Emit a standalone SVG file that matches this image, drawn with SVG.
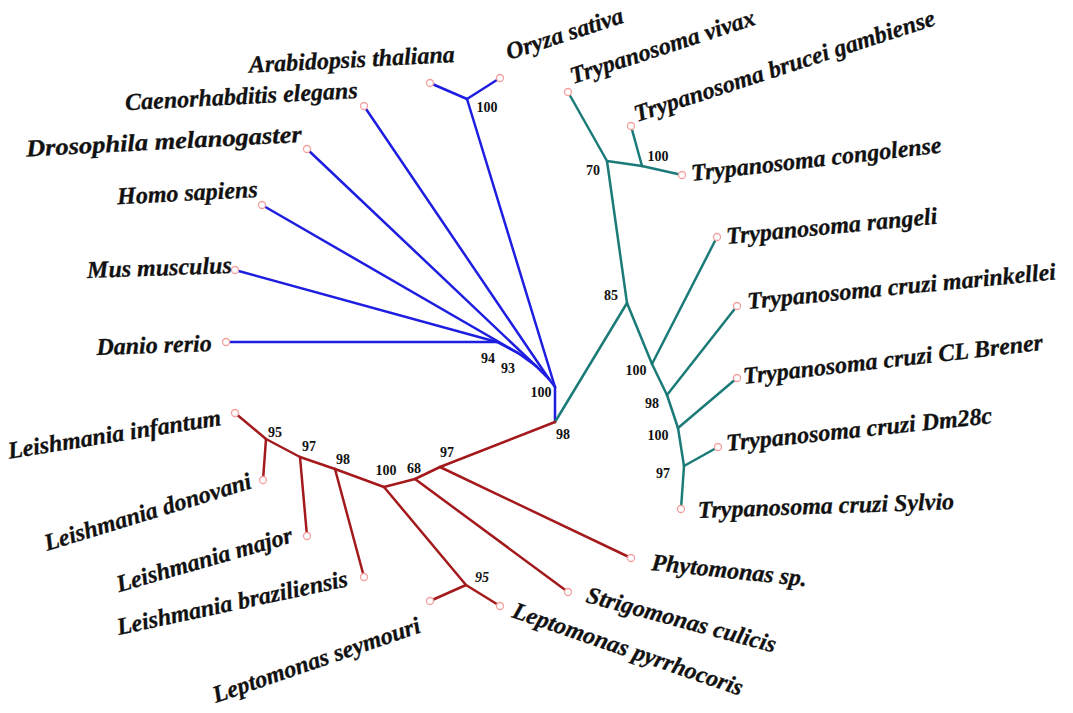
<svg xmlns="http://www.w3.org/2000/svg" width="1073" height="713" viewBox="0 0 1073 713">
<style>
.e{fill:none;stroke-width:2.5;stroke-linecap:round;stroke-linejoin:round}
.b{stroke:#1e1ee0}
.t{stroke:#1b7b78}
.r{stroke:#a3191c}
.lf{fill:#fff;stroke:#f4a0a0;stroke-width:1.3}
.lab{font-family:"Liberation Serif","Times New Roman",serif;font-weight:bold;font-style:italic;font-size:24px;fill:#111;stroke:#111;stroke-width:0.3}
.bs{font-family:"Liberation Serif","Times New Roman",serif;font-weight:bold;font-size:14px;fill:#111;text-anchor:middle}
.end{text-anchor:end}
</style>
<rect width="1073" height="713" fill="#fff"/>
<g id="connectors">
<g class="e b">
<line x1="555" y1="422" x2="555" y2="387"/>
<line x1="555" y1="387" x2="467" y2="99"/>
<line x1="467" y1="99" x2="430" y2="83"/>
<line x1="467" y1="99" x2="500" y2="78"/>
<line x1="555" y1="387" x2="549" y2="379"/>
<line x1="549" y1="379" x2="364" y2="106"/>
<line x1="549" y1="379" x2="536" y2="366"/>
<line x1="536" y1="366" x2="307" y2="149"/>
<line x1="536" y1="366" x2="518" y2="353"/>
<line x1="518" y1="353" x2="262" y2="205"/>
<line x1="518" y1="353" x2="497" y2="342"/>
<line x1="497" y1="342" x2="235" y2="270"/>
<line x1="497" y1="342" x2="226" y2="342"/>
</g>
<g class="e t">
<line x1="555" y1="422" x2="627" y2="303"/>
<line x1="627" y1="303" x2="607" y2="161"/>
<line x1="607" y1="161" x2="568" y2="92"/>
<line x1="607" y1="161" x2="642" y2="166"/>
<line x1="642" y1="166" x2="631" y2="126"/>
<line x1="642" y1="166" x2="682" y2="175"/>
<line x1="627" y1="303" x2="652" y2="364"/>
<line x1="652" y1="364" x2="717" y2="237"/>
<line x1="652" y1="364" x2="667" y2="395"/>
<line x1="667" y1="395" x2="737" y2="306"/>
<line x1="667" y1="395" x2="678" y2="428"/>
<line x1="678" y1="428" x2="737" y2="378"/>
<line x1="678" y1="428" x2="684" y2="466"/>
<line x1="684" y1="466" x2="718" y2="447"/>
<line x1="684" y1="466" x2="681" y2="509"/>
</g>
<g class="e r">
<line x1="555" y1="422" x2="440" y2="467"/>
<line x1="440" y1="467" x2="631" y2="558"/>
<line x1="440" y1="467" x2="415" y2="479"/>
<line x1="415" y1="479" x2="568" y2="592"/>
<line x1="415" y1="479" x2="384" y2="487"/>
<line x1="384" y1="487" x2="466" y2="585"/>
<line x1="466" y1="585" x2="430" y2="601"/>
<line x1="466" y1="585" x2="500" y2="606"/>
<line x1="384" y1="487" x2="335" y2="469"/>
<line x1="335" y1="469" x2="364" y2="577"/>
<line x1="335" y1="469" x2="300" y2="457"/>
<line x1="300" y1="457" x2="307" y2="536"/>
<line x1="300" y1="457" x2="266" y2="439"/>
<line x1="266" y1="439" x2="263" y2="480"/>
<line x1="266" y1="439" x2="235" y2="413"/>
</g>
</g>
<g id="n_root"><text class="bs" x="563" y="439">98</text></g>
<g id="n_blue"><text class="bs" x="541" y="397">100</text></g>
<g id="n_ao"><text class="bs" x="487" y="112">100</text></g>
<g id="n_94"><text class="bs" x="488" y="363">94</text></g>
<g id="n_93"><text class="bs" x="508" y="373">93</text></g>
<g id="n_85"><text class="bs" x="611" y="300">85</text></g>
<g id="n_70"><text class="bs" x="593" y="175">70</text></g>
<g id="n_tb"><text class="bs" x="658" y="161">100</text></g>
<g id="n_tc100"><text class="bs" x="636" y="375">100</text></g>
<g id="n_tc98"><text class="bs" x="652" y="408">98</text></g>
<g id="n_tc100b"><text class="bs" x="658" y="440">100</text></g>
<g id="n_tc97"><text class="bs" x="663" y="478">97</text></g>
<g id="n_r95"><text class="bs" x="275" y="437">95</text></g>
<g id="n_r97"><text class="bs" x="309" y="451">97</text></g>
<g id="n_r98"><text class="bs" x="343" y="464">98</text></g>
<g id="n_r100"><text class="bs" x="386" y="475">100</text></g>
<g id="n_r68"><text class="bs" x="414" y="473">68</text></g>
<g id="n_r97b"><text class="bs" x="447" y="457">97</text></g>
<g id="n_lep"><text class="bs" x="482" y="582" font-style="italic">95</text></g>
<g id="arabidopsis"><circle class="lf" cx="430" cy="83" r="3.5"/><text class="lab end" x="455" y="62" transform="rotate(-3 455 62)">Arabidopsis thaliana</text></g>
<g id="oryza"><circle class="lf" cx="500" cy="78" r="3.5"/><text class="lab" x="509" y="60" font-size="21" transform="rotate(-18 509 60)">Oryza sativa</text></g>
<g id="caenorhabditis"><circle class="lf" cx="364" cy="106" r="3.5"/><text class="lab end" x="358" y="98" transform="rotate(-3 358 98)">Caenorhabditis elegans</text></g>
<g id="drosophila"><circle class="lf" cx="307" cy="149" r="3.5"/><text class="lab end" x="302" y="142" transform="rotate(-3 302 142)" textLength="276" lengthAdjust="spacingAndGlyphs">Drosophila melanogaster</text></g>
<g id="homo"><circle class="lf" cx="262" cy="205" r="3.5"/><text class="lab end" x="258" y="197" transform="rotate(-3 258 197)">Homo sapiens</text></g>
<g id="mus"><circle class="lf" cx="235" cy="270" r="3.5"/><text class="lab end" x="232" y="273" transform="rotate(-2 232 273)">Mus musculus</text></g>
<g id="danio"><circle class="lf" cx="226" cy="342" r="3.5"/><text class="lab end" x="212" y="351" transform="rotate(-2 212 351)">Danio rerio</text></g>
<g id="vivax"><circle class="lf" cx="568" cy="92" r="3.5"/><text class="lab" x="573" y="84" transform="rotate(-18 573 84)">Trypanosoma vivax</text></g>
<g id="brucei"><circle class="lf" cx="631" cy="126" r="3.5"/><text class="lab" x="637" y="122" transform="rotate(-18 637 122)">Trypanosoma brucei gambiense</text></g>
<g id="congolense"><circle class="lf" cx="682" cy="175" r="3.5"/><text class="lab" x="692" y="181" transform="rotate(-6.5 692 181)">Trypanosoma congolense</text></g>
<g id="rangeli"><circle class="lf" cx="717" cy="237" r="3.5"/><text class="lab" x="727" y="244" transform="rotate(-5.5 727 244)">Trypanosoma rangeli</text></g>
<g id="marinkellei"><circle class="lf" cx="737" cy="306" r="3.5"/><text class="lab" x="748" y="309" transform="rotate(-5.5 748 309)">Trypanosoma cruzi marinkellei</text></g>
<g id="clbrener"><circle class="lf" cx="737" cy="378" r="3.5"/><text class="lab" x="744" y="384" transform="rotate(-6.5 744 384)">Trypanosoma cruzi CL Brener</text></g>
<g id="dm28c"><circle class="lf" cx="718" cy="447" r="3.5"/><text class="lab" x="727" y="451" transform="rotate(-6 727 451)">Trypanosoma cruzi Dm28c</text></g>
<g id="sylvio"><circle class="lf" cx="681" cy="509" r="3.5"/><text class="lab" x="698" y="518" transform="rotate(-2 698 518)">Trypanosoma cruzi Sylvio</text></g>
<g id="phytomonas"><circle class="lf" cx="631" cy="558" r="3.5"/><text class="lab" x="651" y="570" transform="rotate(6 651 570)">Phytomonas sp.</text></g>
<g id="strigomonas"><circle class="lf" cx="568" cy="592" r="3.5"/><text class="lab" x="585" y="602" transform="rotate(15 585 602)">Strigomonas culicis</text></g>
<g id="pyrrhocoris"><circle class="lf" cx="500" cy="606" r="3.5"/><text class="lab" x="511" y="617" transform="rotate(19 511 617)">Leptomonas pyrrhocoris</text></g>
<g id="seymouri"><circle class="lf" cx="430" cy="601" r="3.5"/><text class="lab end" x="422" y="632" transform="rotate(-19 422 632)">Leptomonas seymouri</text></g>
<g id="braziliensis"><circle class="lf" cx="364" cy="577" r="3.5"/><text class="lab end" x="349" y="586" transform="rotate(-12 349 586)">Leishmania braziliensis</text></g>
<g id="major"><circle class="lf" cx="307" cy="536" r="3.5"/><text class="lab end" x="294" y="542" transform="rotate(-16 294 542)">Leishmania major</text></g>
<g id="donovani"><circle class="lf" cx="263" cy="480" r="3.5"/><text class="lab end" x="253" y="488" transform="rotate(-17 253 488)">Leishmania donovani</text></g>
<g id="infantum"><circle class="lf" cx="235" cy="413" r="3.5"/><text class="lab end" x="222" y="425" transform="rotate(-9 222 425)">Leishmania infantum</text></g>
</svg>
